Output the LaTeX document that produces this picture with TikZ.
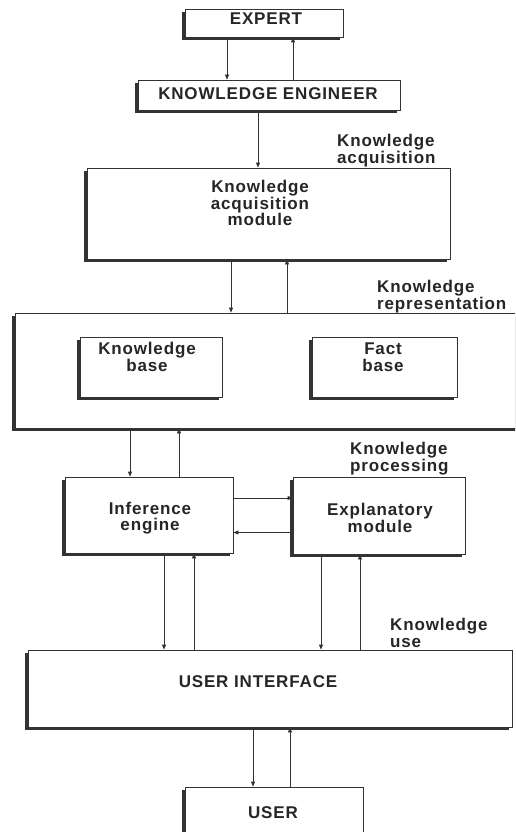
\documentclass[tikz,border=0pt]{standalone}
\usepackage{fontspec}
\setmainfont{Liberation Sans}[LetterSpace=5]
\usetikzlibrary{arrows.meta,shadows}

\begin{document}
\begin{tikzpicture}[x=1pt,y=-1pt,
  every node/.style={font=\fontsize{17}{16.5}\selectfont\bfseries, text=black!85},
  boxshape/.style={draw=black!80, line width=0.8pt, fill=white, inner sep=0pt,
    drop shadow={shadow xshift=-3pt, shadow yshift=-3pt, fill=black!80, opacity=1}},
  txt/.style={align=center, inner sep=0pt},
  lbl/.style={align=left, inner sep=0pt, anchor=north west},
  arr/.style={draw=black!80, line width=0.8pt, -{Triangle[length=5pt,width=4pt]}}]

\clip (0,0) rectangle (515,832);
\fill[white] (0,0) rectangle (515,832);

% boxes
\node[boxshape, minimum width=158pt, minimum height=28pt] (expert) at (264,23) {};
\node[boxshape, minimum width=262pt, minimum height=30pt] (ke) at (269,95) {};
\node[boxshape, minimum width=363pt, minimum height=91pt] (kam) at (268.5,213.5) {};
\node[boxshape, minimum width=510pt, minimum height=115pt] (kb) at (270,370.5) {};
\node[boxshape, minimum width=142pt, minimum height=60pt] (kbase) at (151,367) {};
\node[boxshape, minimum width=145pt, minimum height=60pt] (fbase) at (384.5,367) {};
\node[boxshape, minimum width=168pt, minimum height=76pt] (ie) at (149,515) {};
\node[boxshape, minimum width=172pt, minimum height=77pt] (em) at (379,515.5) {};
\node[boxshape, minimum width=484pt, minimum height=77pt] (ui) at (270,688.5) {};
\node[boxshape, minimum width=178pt, minimum height=58pt] (user) at (274,816) {};

% box texts
\node[txt] (expertText) at (266,19) {EXPERT};
\node[txt] (keText) at (268,94) {KNOWLEDGE ENGINEER};
\node[txt] (kamText) at (260,203) {Knowledge\\acquisition\\module};
\node[txt] (kbaseText) at (147,357) {Knowledge\\base};
\node[txt] (fbaseText) at (383,357) {Fact\\base};
\node[txt] (ieText) at (150,518) {Inference\\engine};
\node[txt] (emText) at (380,518) {Explanatory\\module};
\node[txt] (uiText) at (258,682) {USER INTERFACE};
\node[txt] (userText) at (273,813) {USER};

% side labels
\node[lbl] (lAcq) at (337,134) {Knowledge\\acquisition};
\node[lbl] (lRep) at (377,280) {Knowledge\\representation};
\node[lbl] (lProc) at (350,442) {Knowledge\\processing};
\node[lbl] (lUse) at (390,618) {Knowledge\\use};

% connectors
\draw[arr] ([xshift=-37pt]expert.south) -- ([xshift=-37pt]expert.south |- ke.north);
\draw[arr] ([xshift=29pt]expert.south |- ke.north) -- ([xshift=29pt]expert.south);
\draw[arr] ([xshift=-11pt]ke.south) -- ([xshift=-11pt]ke.south |- kam.north);
\draw[arr] ([xshift=-37.5pt]kam.south) -- ([xshift=-37.5pt]kam.south |- kb.north);
\draw[arr] ([xshift=18.5pt]kam.south |- kb.north) -- ([xshift=18.5pt]kam.south);
\draw[arr] ([xshift=-140pt]kb.south) -- ([xshift=-140pt]kb.south |- ie.north);
\draw[arr] ([xshift=-91pt]kb.south |- ie.north) -- ([xshift=-91pt]kb.south);
\draw[arr] ([yshift=17pt]ie.east) -- ([yshift=17pt]ie.east -| em.west);
\draw[arr] ([yshift=-17pt]em.west) -- ([yshift=-17pt]em.west -| ie.east);
\draw[arr] ([xshift=15pt]ie.south) -- ([xshift=15pt]ie.south |- ui.north);
\draw[arr] ([xshift=45pt]ie.south |- ui.north) -- ([xshift=45pt]ie.south);
\draw[arr] ([xshift=-58pt]em.south) -- ([xshift=-58pt]em.south |- ui.north);
\draw[arr] ([xshift=-19pt]em.south |- ui.north) -- ([xshift=-19pt]em.south);
\draw[arr] ([xshift=-17pt]ui.south) -- ([xshift=-17pt]ui.south |- user.north);
\draw[arr] ([xshift=20pt]ui.south |- user.north) -- ([xshift=20pt]ui.south);
\end{tikzpicture}
\end{document}
